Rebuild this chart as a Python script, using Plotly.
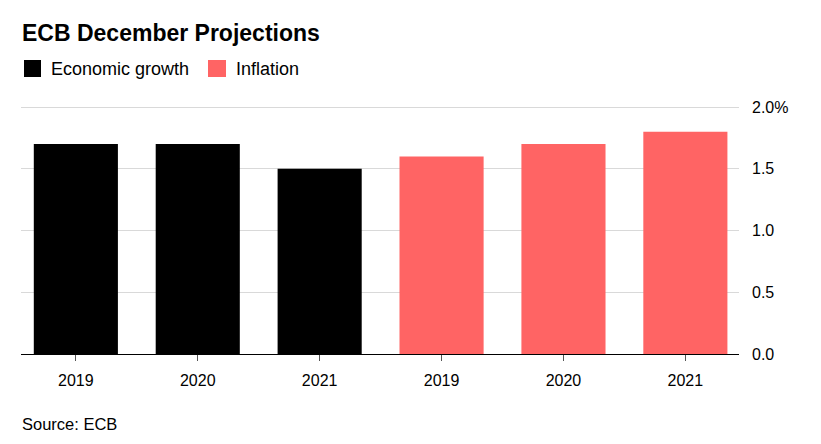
import plotly.graph_objects as go

categories = ["2019", "2020", "2021", "2019", "2020", "2021"]
growth_years = ["2019", "2020", "2021"]
growth_values = [1.7, 1.7, 1.5]
inflation_years = ["2019", "2020", "2021"]
inflation_values = [1.6, 1.7, 1.8]
y_tickvals = [0, 0.5, 1.0, 1.5, 2.0]
y_ticktext = ["0.0", "0.5", "1.0", "1.5", "2.0%"]

BLACK = "#000000"
RED = "#ff6464"
FONT = "Liberation Sans, Arial, sans-serif"

PT, PB, PL, PR = 105, 354, 21, 739
PH = PB - PT
PW = PR - PL


def px_x(p):
    return (p - PL) / PW


def px_y(p):
    return (PB - p) / PH


xpos = list(range(len(categories)))
fig = go.Figure()
fig.add_trace(go.Bar(x=xpos[:3], y=growth_values, marker_color=BLACK, width=0.69,
                     name="Economic growth", showlegend=False, marker_line_width=0))
fig.add_trace(go.Bar(x=xpos[3:], y=inflation_values, marker_color=RED, width=0.69,
                     name="Inflation", showlegend=False, marker_line_width=0))

fig.update_layout(
    width=821, height=444,
    margin=dict(l=PL, r=821 - PR, t=PT, b=444 - PB),
    paper_bgcolor="white", plot_bgcolor="white",
    font=dict(family=FONT, color="#000", size=16),
    xaxis=dict(range=[-0.45, 5.44], tickvals=xpos, ticktext=categories,
               showgrid=False, showline=True, linecolor="#000", linewidth=1,
               ticks="outside", ticklen=6, tickcolor="#555", tickwidth=1,
               ticklabelstandoff=6,
               tickfont=dict(size=16), zeroline=False, fixedrange=True),
    yaxis=dict(range=[0, PH / 123.5], side="right", tickvals=y_tickvals, ticktext=y_ticktext,
               showgrid=True, gridcolor="#d9d9d9", gridwidth=1, zeroline=False,
               ticks="", ticklabelstandoff=12, tickfont=dict(size=16), showline=False),
)

fig.add_annotation(text="<b>ECB December Projections</b>", xref="paper", yref="paper",
                   x=px_x(20), y=px_y(33), xanchor="left", yanchor="middle",
                   showarrow=False, font=dict(size=23, color="#000", family=FONT))
# legend
fig.add_shape(type="rect", xref="paper", yref="paper",
              x0=px_x(24), x1=px_x(41), y0=px_y(77), y1=px_y(60),
              fillcolor=BLACK, line_width=0)
fig.add_annotation(text="Economic growth", xref="paper", yref="paper",
                   x=px_x(49), y=px_y(69), xanchor="left", yanchor="middle",
                   showarrow=False, font=dict(size=18, color="#000", family=FONT))
fig.add_shape(type="rect", xref="paper", yref="paper",
              x0=px_x(208), x1=px_x(226), y0=px_y(77), y1=px_y(60),
              fillcolor=RED, line_width=0)
fig.add_annotation(text="Inflation", xref="paper", yref="paper",
                   x=px_x(234), y=px_y(69), xanchor="left", yanchor="middle",
                   showarrow=False, font=dict(size=18, color="#000", family=FONT))
fig.add_annotation(text="Source: ECB", xref="paper", yref="paper",
                   x=px_x(20), y=px_y(424), xanchor="left", yanchor="middle",
                   showarrow=False, font=dict(size=16.5, color="#000", family=FONT))

fig.write_html("out.html")
